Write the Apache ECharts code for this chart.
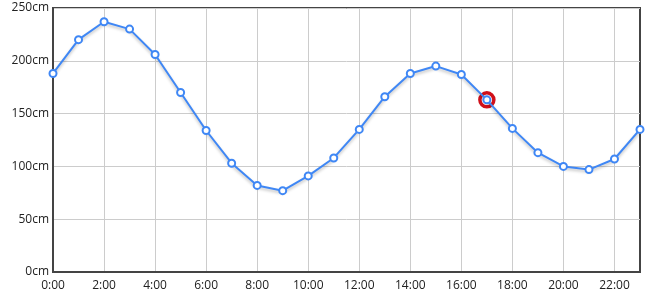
<!DOCTYPE html>
<html><head><meta charset="utf-8">
<script src="https://cdn.jsdelivr.net/npm/echarts@6/dist/echarts.min.js"></script>
<style>html,body{margin:0;padding:0;background:#fff}#c{width:651px;height:301px}</style>
</head><body><div id="c"></div>
<script>
var hours = ['0:00','1:00','2:00','3:00','4:00','5:00','6:00','7:00','8:00','9:00','10:00','11:00','12:00','13:00','14:00','15:00','16:00','17:00','18:00','19:00','20:00','21:00','22:00','23:00'];
var levels = [188,220,237,230,206,170,134,103,82,77,91,108,135,166,188,195,187,163,136,113,100,97,107,135];
var highlightIndex = 17;
var yTicks = [0,50,100,150,200,250];

var hl = levels.map(function(v,i){ return i===highlightIndex ? v : null; });
var chart = echarts.init(document.getElementById('c'));
chart.setOption({
  animation:false,
  textStyle:{fontFamily:'"Open Sans","Noto Sans",sans-serif'},
  grid:{left:53,right:11,top:8,bottom:29,show:true,borderColor:'#444',borderWidth:2},
  xAxis:{type:'category',data:hours,boundaryGap:false,
    axisLine:{lineStyle:{color:'#444',width:2}},
    axisTick:{show:false},
    axisLabel:{interval:1,color:'#222',fontSize:12,margin:8},
    splitLine:{show:true,interval:1,lineStyle:{color:'#ccc',width:1}}},
  yAxis:{type:'value',min:yTicks[0],max:yTicks[yTicks.length-1],interval:50,
    axisLine:{show:true,lineStyle:{color:'#444',width:2}},
    axisTick:{show:false},
    axisLabel:{formatter:'{value}cm',color:'#222',fontSize:12,margin:4},
    splitLine:{lineStyle:{color:'#ccc',width:1}}},
  series:[
    {type:'scatter',data:hl,symbolSize:14,z:1,
     itemStyle:{color:'#fff',borderColor:'#d0101a',borderWidth:3.5,opacity:1}},
    {type:'line',data:levels,symbol:'circle',symbolSize:7,z:2,
     lineStyle:{color:'#3f87f5',width:2,shadowColor:'rgba(0,0,0,0.25)',shadowBlur:3,shadowOffsetY:2},
     itemStyle:{color:'#fff',borderColor:'#3f87f5',borderWidth:2}}
  ]
});
</script></body></html>
